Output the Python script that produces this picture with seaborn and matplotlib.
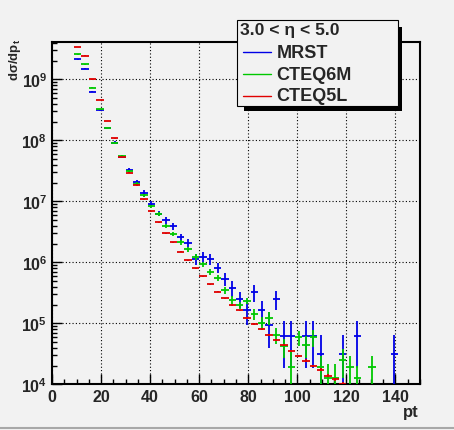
import numpy as np
import pandas as pd
import matplotlib
matplotlib.use('Agg')
import matplotlib.pyplot as plt
from matplotlib.patches import Rectangle
from matplotlib.lines import Line2D
from matplotlib.ticker import MultipleLocator, LogLocator, NullFormatter
import seaborn as sns

# pt bin centres (bins 3 GeV wide)
pt_bins = [10.5, 13.5, 16.5, 19.5, 22.5, 25.5, 28.5, 31.5, 34.5, 37.5,
           40.5, 43.5, 46.5, 49.5, 52.5, 55.5, 58.5, 61.5, 64.5, 67.5,
           70.5, 73.5, 76.5, 79.5, 82.5, 85.5, 88.5, 91.5, 94.5, 97.5,
           100.5, 103.5, 106.5, 109.5, 112.5, 115.5, 118.5, 121.5, 124.5, 127.5,
           130.5, 133.5, 136.5, 139.5]
bin_width = 3.0
nan = np.nan

# log10(dsigma/dpt)
mrst_log = [9.33, 9.17, 8.80, 8.49, 8.20, 7.96, 7.73, 7.51, 7.31, 7.13,
            6.96, 6.80, 6.69, 6.59, 6.41, 6.32, 6.05, 6.09, 6.06, 5.91,
            5.73, 5.58, 5.40, 5.22, 5.51, 5.21, 4.98, 5.40, 4.80, 4.80,
            nan, 4.80, 4.80, 4.50, nan, nan, 4.50, nan, 4.80, nan,
            nan, nan, nan, 4.50]
cteq6m_log = [9.41, 9.25, 8.86, 8.51, 8.21, 7.96, 7.74, 7.50, 7.29, 7.10,
              6.92, 6.79, 6.60, 6.46, 6.33, 6.21, 6.09, 5.97, 5.84, 5.75,
              5.54, 5.39, 5.30, 5.37, 5.15, 5.01, 5.09, 4.81, 4.62, 4.28,
              4.77, 4.65, 4.77, 4.28, 4.11, 4.11, 4.40, 4.28, 4.11, nan,
              4.28, nan, nan, nan]
cteq5l_log = [9.53, 9.39, 9.00, 8.66, 8.32, 8.03, 7.73, 7.47, 7.26, 7.03,
              6.84, 6.66, 6.48, 6.33, 6.17, 6.03, 5.90, 5.77, 5.64, 5.52,
              5.41, 5.30, 5.21, 5.09, 4.99, 4.90, 4.81, 4.73, 4.64, 4.54,
              4.46, 4.39, 4.30, 4.24, 4.14, 4.08, 4.01, nan, nan, nan,
              nan, nan, nan, nan]

# relative errors (error / value)
mrst_err = [0.02, 0.02, 0.02, 0.02, 0.02, 0.05, 0.06, 0.07, 0.08, 0.14,
            0.12, 0.10, 0.12, 0.12, 0.15, 0.14, 0.20, 0.20, 0.20, 0.18,
            0.25, 0.28, 0.30, 0.44, 0.32, 0.45, 0.58, 0.35, 0.71, 0.71,
            nan, 0.71, 0.71, 1.0, nan, nan, 1.0, nan, 0.71, nan,
            nan, nan, nan, 1.0]
cteq6m_err = [0.02, 0.02, 0.02, 0.02, 0.03, 0.03, 0.04, 0.04, 0.05, 0.06,
              0.06, 0.07, 0.08, 0.08, 0.09, 0.09, 0.10, 0.10, 0.12, 0.12,
              0.12, 0.14, 0.14, 0.12, 0.20, 0.22, 0.25, 0.30, 0.35, 0.90,
              0.28, 0.40, 0.30, 0.50, 0.70, 0.70, 0.50, 0.55, 0.55, nan,
              0.55, nan, nan, nan]
cteq5l_err = [0.01, 0.01, 0.01, 0.01, 0.01, 0.01, 0.01, 0.01, 0.01, 0.02,
              0.02, 0.02, 0.02, 0.02, 0.02, 0.02, 0.02, 0.02, 0.02, 0.03,
              0.03, 0.03, 0.03, 0.03, 0.03, 0.03, 0.04, 0.04, 0.04, 0.04,
              0.04, 0.05, 0.05, 0.05, 0.05, 0.06, 0.06, nan, nan, nan,
              nan, nan, nan, nan]

series_names = ['MRST', 'CTEQ6M', 'CTEQ5L']
legend_header = '3.0 < \u03b7 < 5.0'

sns.set_style('ticks')
plt.rcParams['font.family'] = ['Liberation Sans', 'DejaVu Sans']
plt.rcParams['font.weight'] = 'bold'
plt.rcParams['mathtext.fontset'] = 'custom'
plt.rcParams['mathtext.rm'] = 'Liberation Sans:bold'
plt.rcParams['mathtext.it'] = 'Liberation Sans:bold'
plt.rcParams['mathtext.bf'] = 'Liberation Sans:bold'
plt.rcParams['mathtext.default'] = 'rm'

palette = dict(zip(series_names, sns.color_palette(['#0000e6', '#00c800', '#e00000'])))

rows = []
for name, logs, errs in zip(series_names, [mrst_log, cteq6m_log, cteq5l_log],
                            [mrst_err, cteq6m_err, cteq5l_err]):
    for x, l, e in zip(pt_bins, logs, errs):
        rows.append({'pt': x, 'value': 10 ** l, 'rel': e, 'set': name})
df = pd.DataFrame(rows).dropna()

W, H = 454, 431
bg = '#f2f2f2'
fig = plt.figure(figsize=(W / 100, H / 100), dpi=100, facecolor=bg)


def fx(px):
    return px / W


def fy(py):
    return 1 - py / H


ax = fig.add_axes([fx(52), fy(385.3), (420 - 52) / W, (385.3 - 42.5) / H])
ax.set_facecolor(bg)

for i, name in enumerate(series_names):
    d = df[df['set'] == name]
    v = d['value'].values
    e = d['rel'].values * v
    lo = np.minimum(e, v * 0.9999)
    ax.errorbar(d['pt'], v, xerr=bin_width / 2, yerr=[lo, e], fmt='none',
                ecolor=palette[name], elinewidth=1.3, capsize=0, zorder=3 + i)

ax.set_yscale('log')
ax.set_xlim(0, 150)
ax.set_ylim(1e4, 10 ** 9.62)
ax.xaxis.set_major_locator(MultipleLocator(20))
ax.xaxis.set_minor_locator(MultipleLocator(5))
ax.yaxis.set_major_locator(LogLocator(base=10))
ax.yaxis.set_minor_locator(LogLocator(base=10, subs=np.arange(2, 10)))
ax.yaxis.set_minor_formatter(NullFormatter())
ax.tick_params(which='both', direction='in', top=False, right=False,
               labelsize=11.5, width=1, color='black')
ax.tick_params(which='major', length=7, pad=3.4)
ax.tick_params(which='minor', length=3.6)
for lab in ax.get_xticklabels() + ax.get_yticklabels():
    lab.set_fontweight('bold')
ax.grid(which='major', linestyle=(0, (1, 2)), color='black', linewidth=0.8)
for sp in ax.spines.values():
    sp.set_linewidth(1.5)
    sp.set_color('black')
ax.set_xlabel('')
ax.set_ylabel('')

# axis titles, ROOT style
fig.text(fx(419), fy(413), 'pt', ha='right', va='center', fontsize=12, fontweight='bold')
fig.text(fx(15), fy(39), r'd$\sigma$/dp$_t$', rotation=90, ha='center', va='top',
         fontsize=9.5, fontweight='bold')

# legend box with shadow
fig.add_artist(Rectangle((fx(244), fy(111.7)), (401.7 - 244) / W, (111.7 - 28) / H,
                         transform=fig.transFigure, facecolor='black', edgecolor='none', zorder=5))
fig.add_artist(Rectangle((fx(236.7), fy(106.7)), (397.7 - 236.7) / W, (106.7 - 21) / H,
                         transform=fig.transFigure, facecolor=bg, edgecolor='black',
                         linewidth=0.8, zorder=6))
fig.text(fx(240), fy(31), legend_header, ha='left', va='center', fontsize=12.6,
         fontweight='bold', zorder=7)
for name, ypx in zip(series_names, [53.3, 75, 96.7]):
    fig.add_artist(Line2D([fx(243), fx(271)], [fy(ypx), fy(ypx)], color=palette[name],
                          linewidth=1, transform=fig.transFigure, zorder=7))
    fig.text(fx(276.7), fy(ypx), name, ha='left', va='center', fontsize=13,
             fontweight='bold', zorder=7)

# canvas edge
fig.add_artist(Line2D([0, 1], [fy(428.5), fy(428.5)], color='#a8a8a8', linewidth=1.5,
                      transform=fig.transFigure))

fig.savefig('out.png', dpi=100, facecolor=fig.get_facecolor())
